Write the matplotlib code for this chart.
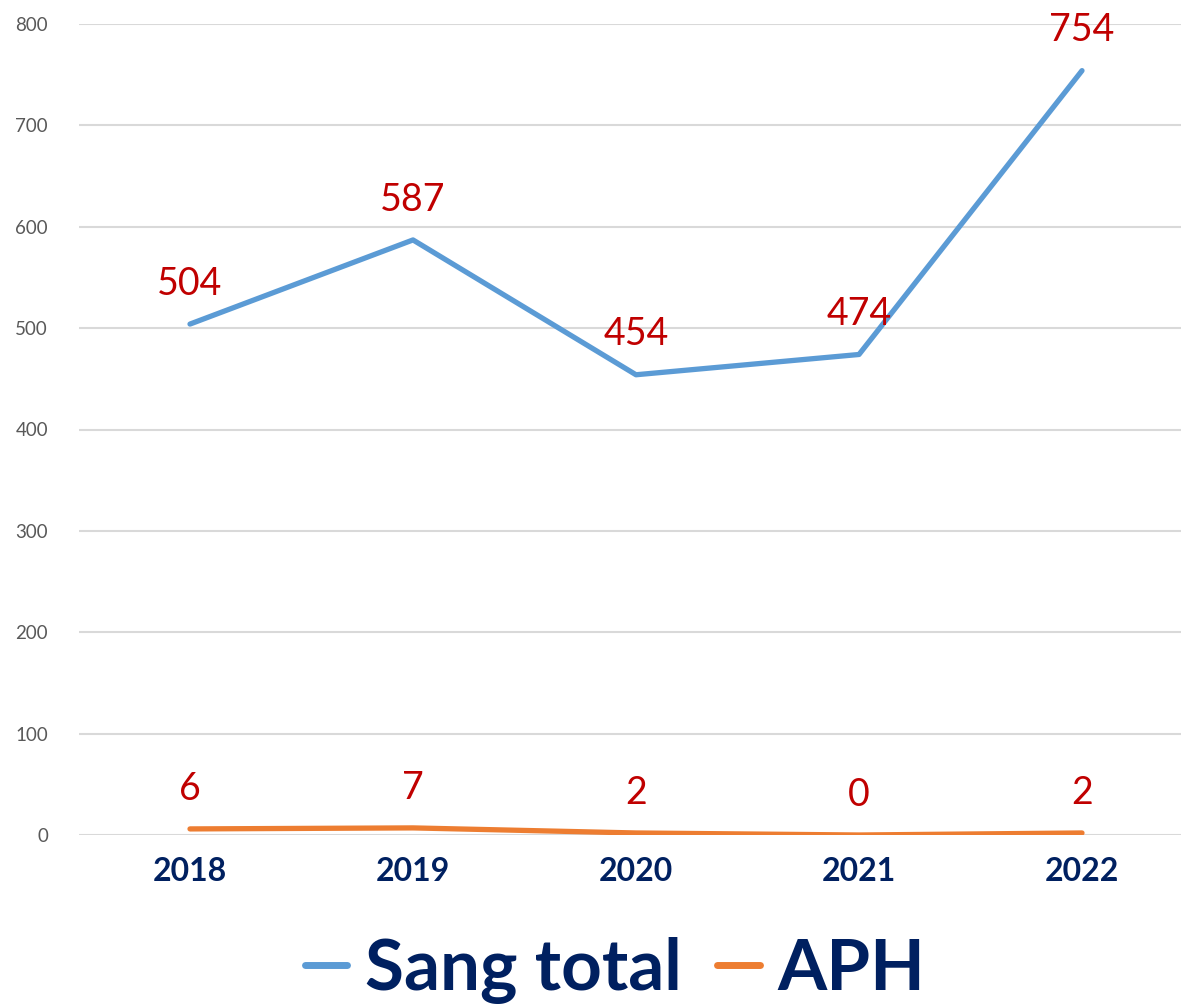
import matplotlib
matplotlib.use("Agg")
import matplotlib.pyplot as plt

# data
years = ["2018", "2019", "2020", "2021", "2022"]
sang_total = [504, 587, 454, 474, 754]
aph = [6, 7, 2, 0, 2]

plt.rcParams['font.family'] = ['Lato', 'DejaVu Sans']

fig = plt.figure(figsize=(11.81, 10.08), dpi=100)
ax = fig.add_axes([78.5 / 1181, 1 - 835 / 1008, 1115 / 1181, 811 / 1008])

x = range(len(years))
blue = '#5B9BD5'
orange = '#ED7D31'
ax.plot(x, sang_total, color=blue, lw=3.8, label='Sang total', solid_capstyle='round', zorder=3)
ax.plot(x, aph, color=orange, lw=3.8, label='APH', solid_capstyle='round', zorder=3)

# red value labels above each point
for series in (sang_total, aph):
    for i, v in enumerate(series):
        ax.annotate(str(v), (i, v), xytext=(0, 29), textcoords='offset points',
                    ha='center', va='center', fontsize=27, color='#C00000',
                    annotation_clip=False)

ax.set_xlim(-0.5, 4.5)
ax.set_ylim(0, 800)
ax.set_yticks(range(0, 801, 100))
ax.set_xticks(list(x))
ax.set_xticklabels(years, fontsize=23, fontweight='bold', color='#002060')
ax.tick_params(axis='y', labelsize=13.5, labelcolor='#595959', length=0, pad=22)
ax.tick_params(axis='x', length=0, pad=16)
ax.grid(axis='y', color='#D9D9D9', lw=1.5)
ax.set_axisbelow(True)
for s in ax.spines.values():
    s.set_visible(False)

leg = fig.legend(loc='center', bbox_to_anchor=(615 / 1181, 1 - 970 / 1008), ncol=2,
                 frameon=False, handlelength=0.6, handletextpad=0.25, columnspacing=0.5,
                 prop={'size': 51, 'weight': 'bold'})
for t in leg.get_texts():
    t.set_color('#002060')
for h in leg.legend_handles:
    h.set_linewidth(5)

fig.savefig('out.png', dpi=100)
